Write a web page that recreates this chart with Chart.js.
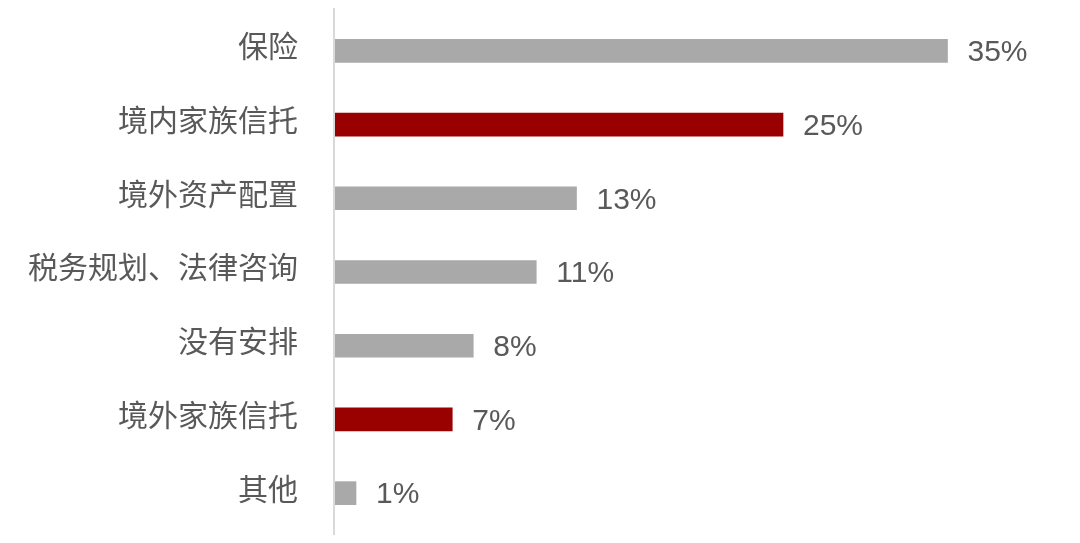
<!DOCTYPE html>
<html>
<head>
<meta charset="utf-8">
<script src="https://cdn.jsdelivr.net/npm/chart.js@4"></script>
<style>
  html, body { margin: 0; padding: 0; background: #fff; }
  #wrap { width: 1080px; height: 543px; position: relative; }
</style>
</head>
<body>
<div id="wrap"><canvas id="chart"></canvas></div>
<script>
const categories = ['保险', '境内家族信托', '境外资产配置', '税务规划、法律咨询', '没有安排', '境外家族信托', '其他'];
const shares = [35, 25.6, 13.8, 11.5, 7.9, 6.7, 1.2];
const shareLabels = ['35%', '25%', '13%', '11%', '8%', '7%', '1%'];
const highlighted = ['境内家族信托', '境外家族信托'];

const grey = '#a9a9a9';
const red = '#990000';
const textColor = '#595959';

// value labels to the right of each bar
const valueLabels = {
  id: 'valueLabels',
  afterDatasetsDraw(chart) {
    const ctx = chart.ctx;
    const meta = chart.getDatasetMeta(0);
    ctx.save();
    ctx.font = '30px "Liberation Sans", Arial, sans-serif';
    ctx.fillStyle = textColor;
    ctx.textAlign = 'left';
    ctx.textBaseline = 'middle';
    meta.data.forEach((bar, i) => {
      ctx.fillText(shareLabels[i], bar.x + 20, bar.y + 2);
    });
    ctx.restore();
  }
};

// the light vertical axis line runs a little past the plot area
const axisLine = {
  id: 'axisLine',
  beforeDatasetsDraw(chart) {
    const ctx = chart.ctx;
    const x = chart.chartArea.left - 1;
    ctx.save();
    ctx.strokeStyle = '#d9d9d9';
    ctx.lineWidth = 2;
    ctx.beginPath();
    ctx.moveTo(x, 8);
    ctx.lineTo(x, 535);
    ctx.stroke();
    ctx.restore();
  }
};

new Chart(document.getElementById('chart'), {
  type: 'bar',
  data: {
    labels: categories,
    datasets: [{
      data: shares,
      backgroundColor: categories.map(c => highlighted.includes(c) ? red : grey),
      barThickness: 23
    }]
  },
  options: {
    indexAxis: 'y',
    responsive: true,
    maintainAspectRatio: false,
    animation: false,
    layout: { padding: { top: 14, bottom: 13, right: 45, left: 0 } },
    plugins: {
      legend: { display: false },
      tooltip: { enabled: false }
    },
    scales: {
      x: {
        display: false,
        min: 0,
        max: 40
      },
      y: {
        afterFit: scale => {
          scale.width = 335;
          scale.paddingTop = 0;
          scale.paddingBottom = 0;
        },
        grid: { display: false, drawTicks: false },
        border: { display: false },
        ticks: {
          color: textColor,
          padding: 37,
          labelOffset: -5,
          font: { family: '"Noto Sans CJK SC", sans-serif', size: 30 }
        }
      }
    }
  },
  plugins: [axisLine, valueLabels]
});
</script>
</body>
</html>
